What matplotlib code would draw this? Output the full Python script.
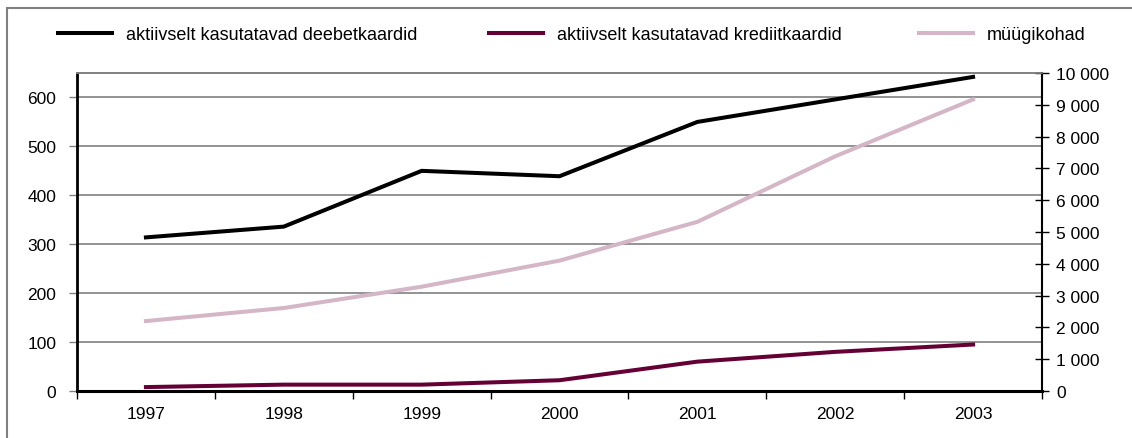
import matplotlib
matplotlib.use("Agg")
import matplotlib.pyplot as plt
from matplotlib.ticker import FuncFormatter, FixedLocator
from matplotlib.patches import Rectangle
import numpy as np

plt.rcParams['font.family'] = ['Liberation Sans', 'DejaVu Sans']
plt.rcParams['font.size'] = 12.5

years = ['1997', '1998', '1999', '2000', '2001', '2002', '2003']
deebet = [314, 336, 450, 439, 550, 596, 642]
krediit = [8, 13, 13, 22, 60, 80, 95]
myygikohad = [2200, 2610, 3280, 4100, 5320, 7380, 9170]

lbl_deebet = 'aktiivselt kasutatavad deebetkaardid'
lbl_krediit = 'aktiivselt kasutatavad krediitkaardid'
lbl_myyk = 'müügikohad'

c_deebet = '#000000'
c_krediit = '#650035'
c_myyk = '#d4b6c7'

fig = plt.figure(figsize=(11.32, 4.39), dpi=100)
ax = fig.add_axes([77/1132, 47/439, 965/1132, 318/439])
ax2 = ax.twinx()

x = np.arange(len(years))
l1, = ax.plot(x, deebet, color=c_deebet, lw=2.9, zorder=5)
l2, = ax.plot(x, krediit, color=c_krediit, lw=2.9, zorder=5)
l3, = ax2.plot(x, myygikohad, color=c_myyk, lw=2.9, zorder=4)

ax.set_xlim(-0.5, len(years) - 0.5)
ax.set_ylim(0, 650)
ax2.set_ylim(0, 10000)

# gridlines from left axis
ax.set_yticks(range(0, 700, 100))
ax.yaxis.grid(True, color='#808080', lw=1.2)
ax.set_axisbelow(True)
ax.tick_params(axis='y', direction='out', length=6, width=1, color='#808080', pad=9, labelsize=12.5)

ax2.set_yticks(range(0, 11000, 1000))
ax2.yaxis.set_major_formatter(FuncFormatter(lambda v, p: f'{int(v):,}'.replace(',', ' ')))
ax2.tick_params(axis='y', direction='inout', length=10, width=1, color='#000000', pad=5, labelsize=12.5)

# category labels at centres, tick marks on boundaries
ax.set_xticks(x)
ax.set_xticklabels(years)
ax.tick_params(axis='x', which='major', length=0, pad=11, labelsize=12.5)
ax.xaxis.set_minor_locator(FixedLocator(np.arange(-0.5, len(years), 1.0)))
ax.tick_params(axis='x', which='minor', direction='out', length=6, width=1, color='#000000')

for a in (ax, ax2):
    a.spines['top'].set_color('#808080')
    a.spines['top'].set_linewidth(1.2)
ax.spines['left'].set_linewidth(2)
ax.spines['bottom'].set_linewidth(2.2)
ax2.spines['right'].set_linewidth(1.5)
ax2.spines['left'].set_visible(False)
ax2.spines['bottom'].set_visible(False)
ax.spines['right'].set_visible(False)

# legend, three entries spread across the top
for h, lab, xpos in [(l1, lbl_deebet, 58), (l2, lbl_krediit, 489), (l3, lbl_myyk, 919)]:
    fig.legend([h], [lab], loc='center left', bbox_to_anchor=(xpos/1132, 1 - 36/439),
               frameon=False, borderpad=0, borderaxespad=0, handlelength=3.0,
               handletextpad=0.75, fontsize=13)

# outer frame
fig.patches.append(Rectangle((7/1132, -0.1), 1.2, 1 - 9/439 + 0.1, transform=fig.transFigure,
                             fill=False, edgecolor='#808080', lw=1.5))

fig.savefig('out.png', dpi=100)
